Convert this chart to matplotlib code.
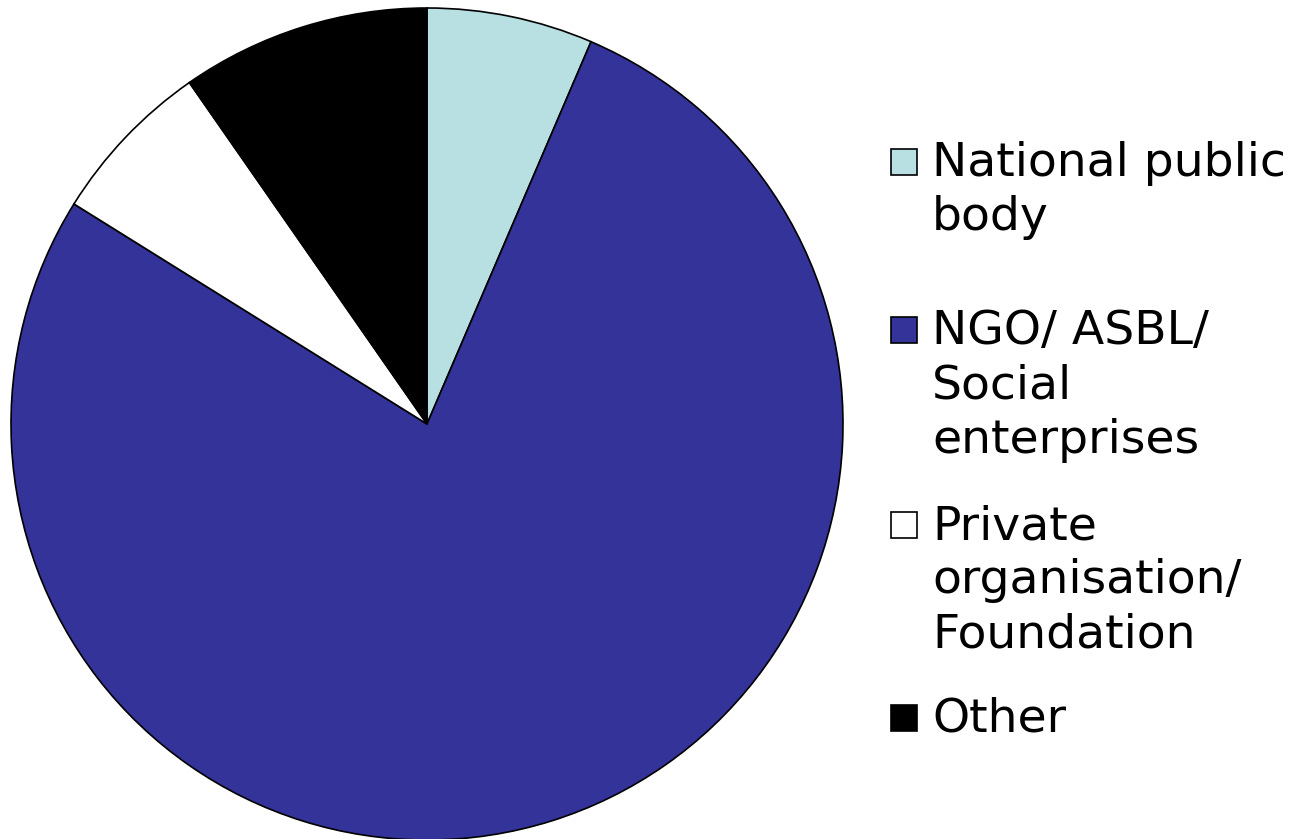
import matplotlib
matplotlib.use("Agg")
import matplotlib.pyplot as plt
from matplotlib.patches import Rectangle

# data (respondent counts by type of organisation)
labels = ["National public\nbody", "NGO/ ASBL/\nSocial\nenterprises",
          "Private\norganisation/\nFoundation", "Other"]
counts = [2, 24, 2, 3]
colors = ["#B8E0E2", "#333399", "#FFFFFF", "#000000"]

W, H = 1295, 839
fig = plt.figure(figsize=(W / 100, H / 100), dpi=100)

# pie axes: centre (427, 424) px, radius 416 px
ax = fig.add_axes([11 / W, -1 / H, 832 / W, 832 / H])
ax.pie(counts, colors=colors, startangle=90, counterclock=False,
       radius=1.0, wedgeprops=dict(edgecolor="black", linewidth=1.2))
ax.set_xlim(-1.0, 1.0)
ax.set_ylim(-1.0, 1.0)
ax.set_aspect("equal")
ax.axis("off")

# hand-placed legend (first line centre y in px from top)
line_y = [162, 330, 525, 718]
for lab, col, y in zip(labels, colors, line_y):
    fig.patches.append(Rectangle((891 / W, 1 - (y + 13) / H), 26 / W, 26 / H,
                                 transform=fig.transFigure, facecolor=col,
                                 edgecolor="black", linewidth=1.2))
    fig.text(932 / W, 1 - (y - 21) / H, lab, fontsize=34, va="top", ha="left",
             linespacing=1.27, family="DejaVu Sans")

fig.savefig("out.png", dpi=100)
